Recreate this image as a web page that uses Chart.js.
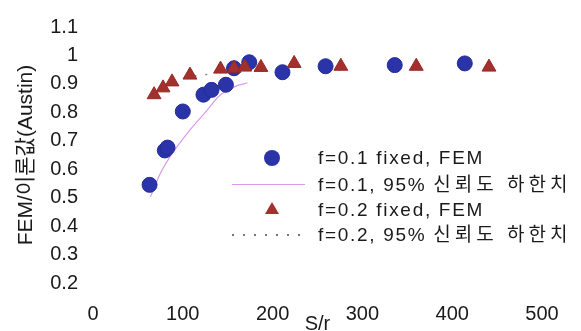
<!DOCTYPE html>
<html lang="ko">
  <head>
    <meta charset="UTF-8" />
    <title>FEM / 이론값 (Austin)</title>
    <script src="https://cdn.jsdelivr.net/npm/chart.js"></script>
    <style>
      body {
        margin: 0;
        background: #fff;
      }
      .wrap {
        position: relative;
        width: 581px;
        height: 331px;
      }
      .legend {
        position: absolute;
        left: 0;
        top: 0;
        font-family: "Liberation Sans", Arial, "Noto Sans CJK KR", sans-serif;
        font-size: 19px;
        letter-spacing: 1.7px;
        color: #1a1a1a;
      }
      .legend .txt {
        position: absolute;
        left: 318px;
        line-height: 20px;
        white-space: nowrap;
      }
      .legend .ko {
        letter-spacing: 4px;
      }
      .legend .mk {
        position: absolute;
      }
      .mk.circle {
        left: 264px;
        top: 150px;
        width: 16px;
        height: 16px;
        border-radius: 50%;
        background: #2a33a8;
      }
      .mk.pink {
        left: 232px;
        top: 184px;
        width: 73px;
        border-top: 1px solid #dd9aec;
      }
      .mk.tri {
        left: 265px;
        top: 202px;
        width: 0;
        height: 0;
        border-left: 7px solid transparent;
        border-right: 7px solid transparent;
        border-bottom: 12px solid #a3302c;
      }
      .mk.dots {
        left: 232px;
        top: 234px;
        width: 75px;
        height: 2px;
        background: repeating-linear-gradient(to right, #777 0 2px, transparent 2px 11px);
      }
    </style>
  </head>
  <body>
    <div class="wrap">
      <canvas id="chart"></canvas>
      <div class="legend">
        <div class="mk circle"></div>
        <div class="txt" style="top: 148px">f=0.1 fixed, FEM</div>
        <div class="mk pink"></div>
        <div class="txt" style="top: 175px">f=0.1, 95% <span class="ko">신뢰도 하한치</span></div>
        <div class="mk tri"></div>
        <div class="txt" style="top: 200px">f=0.2 fixed, FEM</div>
        <div class="mk dots"></div>
        <div class="txt" style="top: 225px">f=0.2, 95% <span class="ko">신뢰도 하한치</span></div>
      </div>
    </div>

    <script>
      // f=0.1 fixed, FEM results
      const f1Sr = [63, 80, 83, 100, 123, 132, 148, 157, 174, 211, 259, 336, 414];
      const f1Ratio = [0.545, 0.666, 0.676, 0.803, 0.862, 0.879, 0.897, 0.955, 0.976, 0.941, 0.962, 0.966, 0.972];

      // f=0.2 fixed, FEM results
      const f2Sr = [68, 78, 88, 108, 142, 157, 169, 187, 224, 276, 360, 441];
      const f2Ratio = [0.862, 0.886, 0.907, 0.931, 0.952, 0.955, 0.959, 0.958, 0.972, 0.962, 0.962, 0.959];

      // 95% lower confidence bounds
      const f1LowSr = [64, 74, 89, 108, 127, 141, 160, 172];
      const f1LowRatio = [0.503, 0.579, 0.659, 0.738, 0.807, 0.859, 0.893, 0.903];
      const f2LowSr = [70, 88, 108, 123, 145, 165];
      const f2LowRatio = [0.86, 0.905, 0.925, 0.931, 0.945, 0.952];

      const xTicks = [0, 100, 200, 300, 400, 500];

      const font = "'Liberation Sans', Arial, 'Noto Sans CJK KR', sans-serif";

      function pairs(xs, ys) {
        return xs.map((x, i) => ({ x: x, y: ys[i] }));
      }

      const ctx = document.getElementById("chart").getContext("2d");

      new Chart(ctx, {
        type: "scatter",
        data: {
          datasets: [
            {
              label: "f=0.1 fixed, FEM",
              data: pairs(f1Sr, f1Ratio),
              pointStyle: "circle",
              pointRadius: 7.5,
              backgroundColor: "#2a33a8",
              borderColor: "#232c98",
              borderWidth: 1,
              order: 1,
            },
            {
              label: "f=0.2 fixed, FEM",
              data: pairs(f2Sr, f2Ratio),
              pointStyle: "triangle",
              pointRadius: 8,
              backgroundColor: "#a3302c",
              borderColor: "#952a26",
              borderWidth: 1,
              order: 0,
            },
            {
              label: "f=0.1, 95% 신뢰도 하한치",
              data: pairs(f1LowSr, f1LowRatio),
              showLine: true,
              pointRadius: 0,
              borderColor: "#dd9aec",
              borderWidth: 1.2,
              cubicInterpolationMode: "monotone",
              order: 2,
            },
            {
              label: "f=0.2, 95% 신뢰도 하한치",
              data: pairs(f2LowSr, f2LowRatio),
              showLine: true,
              pointRadius: 0,
              borderColor: "#888",
              borderWidth: 1.5,
              borderDash: [2, 9],
              cubicInterpolationMode: "monotone",
              order: 3,
            },
          ],
        },
        options: {
          responsive: true,
          maintainAspectRatio: false,
          animation: false,
          layout: { padding: { top: 22, right: 39, left: 0, bottom: 0 } },
          plugins: {
            legend: { display: false },
            tooltip: { enabled: false },
          },
          scales: {
            x: {
              type: "linear",
              min: 0,
              max: 500,
              afterBuildTicks: (scale) => {
                scale.ticks = xTicks.map((v) => ({ value: v }));
              },
              afterFit: (scale) => {
                scale.height = 48;
              },
              grid: { display: false, drawTicks: false },
              border: { display: false },
              ticks: {
                padding: 19,
                color: "#1a1a1a",
                font: { family: font, size: 20 },
                maxRotation: 0,
              },
              title: {
                display: true,
                text: "S/r",
                color: "#1a1a1a",
                font: { family: font, size: 20 },
                padding: { top: 0, bottom: -5 },
              },
            },
            y: {
              min: 0.2,
              max: 1.1,
              afterFit: (scale) => {
                scale.width = 93;
              },
              grid: { display: false, drawTicks: false },
              border: { display: false },
              ticks: {
                stepSize: 0.1,
                padding: 15,
                color: "#1a1a1a",
                font: { family: font, size: 20 },
                callback: (v) => String(Number(v.toFixed(1))),
              },
              title: {
                display: true,
                text: "FEM/이론값(Austin)",
                color: "#1a1a1a",
                font: { family: font, size: 21 },
                padding: { top: 14, bottom: 0 },
              },
            },
          },
        },
      });
    </script>
  </body>
</html>
